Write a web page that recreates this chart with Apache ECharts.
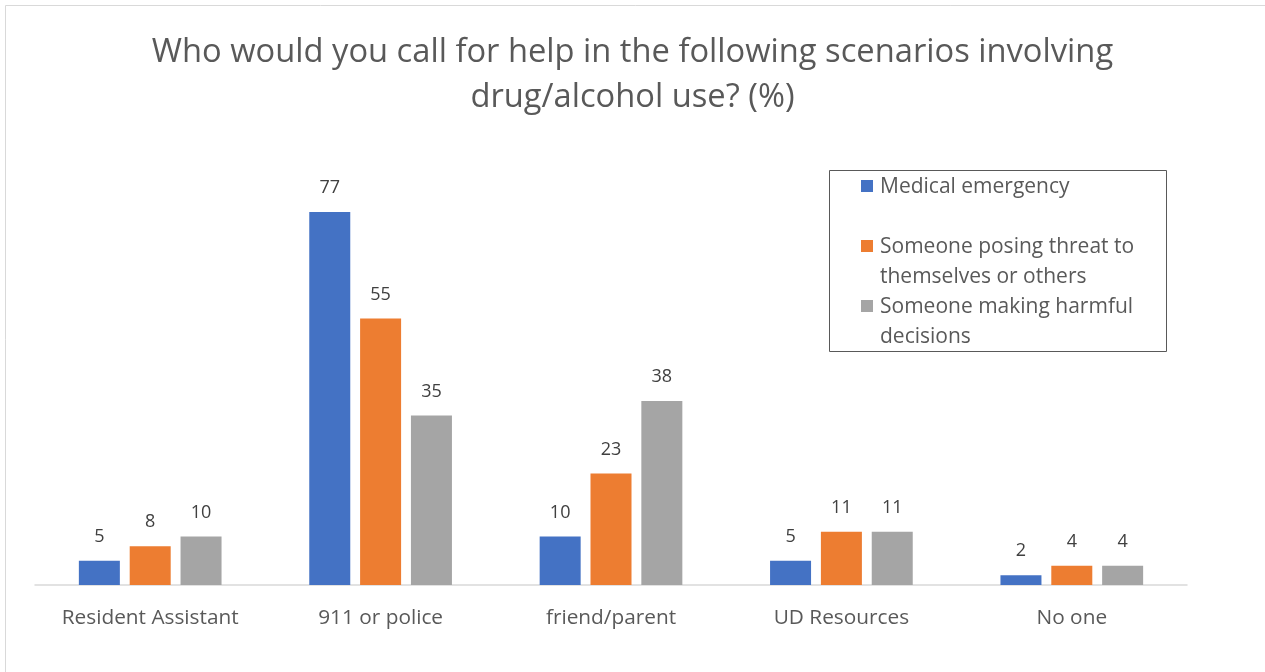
<!DOCTYPE html>
<html>
<head>
<meta charset="utf-8">
<script src="https://cdn.jsdelivr.net/npm/echarts@6/dist/echarts.min.js"></script>
<style>
  html, body { margin: 0; padding: 0; background: #fff; }
  #chart { width: 1265px; height: 672px; }
</style>
</head>
<body>
<div id="chart"></div>
<script>
// Survey answers: who respondents would call, per scenario (%)
const categories = ['Resident Assistant', '911 or police', 'friend/parent', 'UD Resources', 'No one'];
const seriesNames = ['Medical emergency', 'Someone posing threat to themselves or others', 'Someone making harmful decisions'];
const medicalEmergency = [5, 77, 10, 5, 2];
const posingThreat = [8, 55, 23, 11, 4];
const harmfulDecisions = [10, 35, 38, 11, 4];
const legendLines = [
  ['Medical emergency'],
  ['Someone posing threat to', 'themselves or others'],
  ['Someone making harmful', 'decisions']
];
const colors = ['#4472C4', '#ED7D31', '#A5A5A5'];

const FONT = '"Open Sans", Lato, sans-serif';
const chart = echarts.init(document.getElementById('chart'));

function makeSeries(name, data, color) {
  return {
    name: name,
    type: 'bar',
    data: data,
    barWidth: 41,
    barGap: '24%',
    itemStyle: { color: color },
    label: {
      show: true,
      position: 'top',
      distance: 15,
      color: '#404040',
      fontFamily: FONT,
      fontSize: 18
    }
  };
}

// Legend drawn as a boxed block so wrapped entries keep their marker on the first line
const legendGraphic = [];
legendGraphic.push({
  type: 'rect',
  shape: { x: 829.5, y: 170.5, width: 337, height: 181 },
  style: { fill: '#fff', stroke: '#595959', lineWidth: 1 }
});
const legendStarts = [186, 246, 306];
legendLines.forEach((lines, i) => {
  legendGraphic.push({
    type: 'rect',
    shape: { x: 861, y: legendStarts[i] - 6, width: 12, height: 12 },
    style: { fill: colors[i] }
  });
  lines.forEach((line, j) => {
    legendGraphic.push({
      type: 'text',
      x: 880,
      y: legendStarts[i] + 1 + j * 30,
      style: {
        text: line,
        fill: '#595959',
        font: '21px ' + FONT,
        verticalAlign: 'middle',
        align: 'left'
      }
    });
  });
});

chart.setOption({
  backgroundColor: '#fff',
  animation: false,
  title: {
    text: 'Who would you call for help in the following scenarios involving\ndrug/alcohol use? (%)',
    left: 'center',
    top: 25,
    textStyle: {
      color: '#595959',
      fontFamily: FONT,
      fontSize: 32.7,
      fontWeight: 'normal',
      lineHeight: 45
    }
  },
  graphic: [
    {
      type: 'rect',
      shape: { x: 5.5, y: 5.5, width: 1400, height: 800 },
      style: { fill: 'none', stroke: '#D9D9D9', lineWidth: 1 },
      silent: true
    }
  ].concat(legendGraphic),
  grid: { left: 35, right: 78, top: 197.5, bottom: 87, containLabel: false },
  xAxis: {
    type: 'category',
    data: categories,
    axisLine: { show: true, lineStyle: { color: '#D9D9D9', width: 1.5 } },
    axisTick: { show: false },
    axisLabel: {
      color: '#595959',
      fontFamily: FONT,
      fontSize: 20.8,
      margin: 23
    }
  },
  yAxis: {
    type: 'value',
    min: 0,
    max: 80,
    show: false,
    splitLine: { show: false }
  },
  series: [
    makeSeries(seriesNames[0], medicalEmergency, colors[0]),
    makeSeries(seriesNames[1], posingThreat, colors[1]),
    makeSeries(seriesNames[2], harmfulDecisions, colors[2])
  ]
});
</script>
</body>
</html>
